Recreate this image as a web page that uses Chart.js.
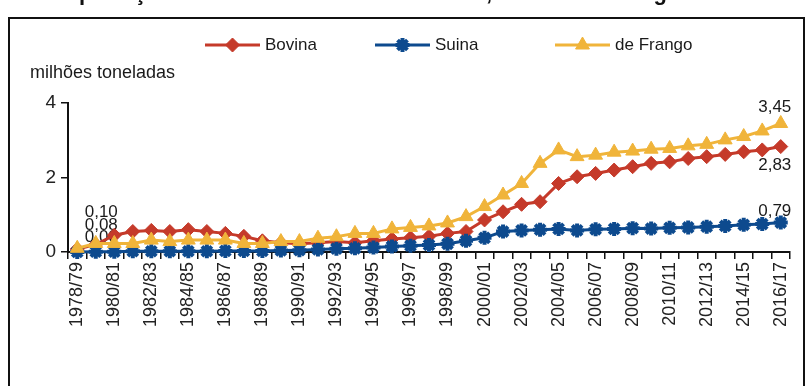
<!DOCTYPE html>
<html>
<head>
<meta charset="utf-8">
<script src="https://cdn.jsdelivr.net/npm/chart.js@4.4.1/dist/chart.umd.min.js"></script>
<style>
  html, body { margin: 0; padding: 0; background: #fff; }
  #wrap { position: relative; width: 806px; height: 386px; overflow: hidden; }
  canvas { display: block; }
</style>
</head>
<body>
<div id="wrap"><canvas id="c" width="806" height="386"></canvas></div>
<script>
// Safras (marketing years)
const categories = [
  '1978/79','1979/80','1980/81','1981/82','1982/83','1983/84','1984/85','1985/86',
  '1986/87','1987/88','1988/89','1989/90','1990/91','1991/92','1992/93','1993/94',
  '1994/95','1995/96','1996/97','1997/98','1998/99','1999/00','2000/01','2001/02',
  '2002/03','2003/04','2004/05','2005/06','2006/07','2007/08','2008/09','2009/10',
  '2010/11','2011/12','2012/13','2013/14','2014/15','2015/16','2016/17'
];

// Exportações, milhões de toneladas
const bovina = [
  0.08, 0.20, 0.45, 0.55, 0.58, 0.55, 0.60, 0.55, 0.50, 0.42,
  0.30, 0.25, 0.22, 0.25, 0.28, 0.25, 0.30, 0.35, 0.38, 0.42,
  0.50, 0.55, 0.86, 1.08, 1.28, 1.35, 1.84, 2.02, 2.11, 2.20,
  2.29, 2.38, 2.42, 2.51, 2.56, 2.62, 2.69, 2.74, 2.83
];
const suina = [
  0.00, 0.01, 0.01, 0.02, 0.02, 0.02, 0.02, 0.02, 0.03, 0.03,
  0.03, 0.04, 0.05, 0.07, 0.09, 0.10, 0.12, 0.15, 0.17, 0.19,
  0.22, 0.30, 0.38, 0.55, 0.58, 0.60, 0.62, 0.58, 0.61, 0.62,
  0.64, 0.63, 0.65, 0.66, 0.68, 0.70, 0.73, 0.75, 0.79
];
const frango = [
  0.10, 0.23, 0.23, 0.23, 0.32, 0.28, 0.32, 0.32, 0.32, 0.23,
  0.23, 0.28, 0.28, 0.37, 0.41, 0.50, 0.50, 0.62, 0.66, 0.70,
  0.78, 0.95, 1.22, 1.53, 1.84, 2.38, 2.74, 2.56, 2.60, 2.68,
  2.71, 2.76, 2.78, 2.85, 2.89, 3.01, 3.10, 3.25, 3.45
];

const yTicks = [0, 2, 4];
const seriesNames = ['Bovina', 'Suina', 'de Frango'];
const titleText = 'Exportações brasileiras de carnes bovina, suína e de frango';
const unitText = 'milhões toneladas';

const RED = '#c53a2a', BLUE = '#0d4a8e', GOLD = '#f0b43a';
const FONT = '"Liberation Sans", Arial, sans-serif';
const fmt = v => v.toFixed(2).replace('.', ',');

// value labels: [dataset, point index, dx, dy]
const labelSpots = [
  [2, 0, 24, -36], [0, 0, 24, -24], [1, 0, 24, -15],
  [2, 38, -6, -16], [0, 38, -6, 19], [1, 38, -6, -11]
];

const frame = {
  id: 'frame',
  beforeDraw(chart) {
    const ctx = chart.ctx;
    ctx.save();
    ctx.fillStyle = '#fff';
    ctx.fillRect(0, 0, chart.width, chart.height);
    // heading (runs above the visible area)
    ctx.fillStyle = '#111';
    ctx.font = 'bold 22px ' + FONT;
    ctx.textBaseline = 'alphabetic';
    ctx.fillText(titleText, 52, 0);
    // outer box
    ctx.strokeStyle = '#111';
    ctx.lineWidth = 2;
    ctx.strokeRect(9, 18, 795, 420);
    // unit text
    ctx.font = '18px ' + FONT;
    ctx.fillStyle = '#1a1a1a';
    ctx.textBaseline = 'middle';
    ctx.fillText(unitText, 30, 73);
    ctx.restore();
  },
  beforeDatasetsDraw(chart) {
    const ctx = chart.ctx;
    ctx.save();
    ctx.font = '17px ' + FONT;
    ctx.fillStyle = '#1a1a1a';
    ctx.textAlign = 'center';
    ctx.textBaseline = 'middle';
    labelSpots.forEach(([d, i, dx, dy]) => {
      const pt = chart.getDatasetMeta(d).data[i];
      const v = chart.data.datasets[d].data[i];
      ctx.fillText(fmt(v), pt.x + dx, pt.y + dy);
    });
    ctx.restore();
  },
  afterDraw(chart) {
    // legend: line sample with marker, then name
    const ctx = chart.ctx;
    const spots = [205, 375, 555];
    ctx.save();
    [0, 1, 2].forEach((d, k) => {
      const ds = chart.data.datasets[d];
      const x0 = spots[k], y = 45, w = 55;
      ctx.strokeStyle = ds.borderColor;
      ctx.lineWidth = 3;
      ctx.beginPath();
      ctx.moveTo(x0, y); ctx.lineTo(x0 + w, y);
      ctx.stroke();
      ctx.fillStyle = ds.pointBackgroundColor;
      ctx.strokeStyle = ds.pointBorderColor;
      ctx.lineWidth = ds.pointBorderWidth;
      Chart.helpers.drawPoint(ctx, {
        pointStyle: ds.pointStyle, radius: ds.pointRadius,
        borderWidth: ds.pointBorderWidth, rotation: 0
      }, x0 + w / 2, y);
      ctx.fillStyle = '#1a1a1a';
      ctx.font = '17px ' + FONT;
      ctx.textBaseline = 'middle';
      ctx.fillText(seriesNames[d], x0 + w + 5, y);
    });
    ctx.restore();
  }
};

new Chart(document.getElementById('c'), {
  type: 'line',
  data: {
    labels: categories,
    datasets: [
      { label: seriesNames[0], data: bovina, order: 3,
        borderColor: RED, backgroundColor: RED, borderWidth: 3,
        pointStyle: 'rectRot', pointRadius: 7, pointBorderWidth: 1,
        pointBackgroundColor: RED, pointBorderColor: RED, clip: false },
      { label: seriesNames[1], data: suina, order: 2,
        borderColor: BLUE, backgroundColor: BLUE, borderWidth: 3,
        pointStyle: 'star', pointRadius: 7, pointBorderWidth: 4,
        pointBackgroundColor: BLUE, pointBorderColor: BLUE, clip: false },
      { label: seriesNames[2], data: frango, order: 1,
        borderColor: GOLD, backgroundColor: GOLD, borderWidth: 3,
        pointStyle: 'triangle', pointRadius: 8, pointBorderWidth: 1,
        pointBackgroundColor: GOLD, pointBorderColor: GOLD, clip: false }
    ]
  },
  options: {
    responsive: false,
    animation: false,
    events: [],
    layout: { padding: { left: 0, right: 16, top: 103, bottom: 0 } },
    plugins: { legend: { display: false }, tooltip: { enabled: false } },
    elements: { line: { tension: 0 } },
    scales: {
      x: {
        offset: true,
        grid: { display: true, drawOnChartArea: false, offset: true,
                tickLength: 7, color: '#111', lineWidth: 1.5 },
        border: { color: '#111', width: 2 },
        ticks: {
          autoSkip: false, maxRotation: 90, minRotation: 90, padding: 3,
          color: '#222', font: { family: FONT, size: 18 },
          callback: (v, i) => (i % 2 === 0 ? categories[i] : '')
        },
        afterFit: s => { s.height = 134; }
      },
      y: {
        min: 0, max: 4,
        afterBuildTicks: s => { s.ticks = yTicks.map(v => ({ value: v })); },
        grid: { display: true, drawOnChartArea: false, tickLength: 7,
                color: '#111', lineWidth: 1.5 },
        border: { color: '#111', width: 2 },
        ticks: { color: '#222', padding: 5, font: { family: FONT, size: 19 } },
        afterFit: s => { s.width = 68; }
      }
    }
  },
  plugins: [frame]
});
</script>
</body>
</html>
